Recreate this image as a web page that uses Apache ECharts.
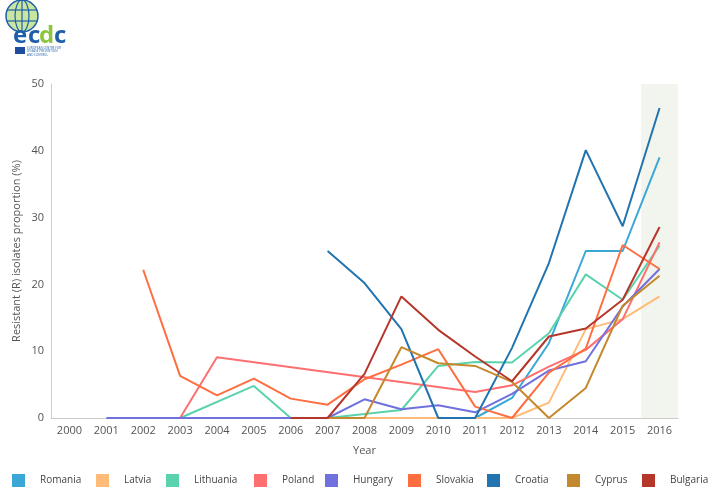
<!DOCTYPE html>
<html><head><meta charset="utf-8">
<script src="https://cdn.jsdelivr.net/npm/echarts@6/dist/echarts.min.js"></script>
<style>html,body{margin:0;padding:0;background:#fff}#c{width:709px;height:489px}</style>
</head><body><div id="c"></div>
<script>
const years = ['2000','2001','2002','2003','2004','2005','2006','2007','2008','2009','2010','2011','2012','2013','2014','2015','2016'];
const yTicks = [0,10,20,30,40,50];
const countries = ['Romania','Latvia','Lithuania','Poland','Hungary','Slovakia','Croatia','Cyprus','Bulgaria'];
const colors = ['#3aa7d6','#ffbb78','#5ad2ae','#ff6f6f','#7070df','#ff6e40','#2274b0','#c4882e','#b5372a'];
const romania   = [null,null,null,null,null,null,null,null,null,null,null,0,3.0,11.2,25.0,25.0,39.0];
const latvia    = [null,null,null,null,null,null,null,null,0,0,0,0,0,2.3,13.3,14.8,18.2];
const lithuania = [null,null,null,0,null,4.8,0,0,0.6,1.2,7.8,8.4,8.3,12.7,21.5,17.7,25.8];
const poland    = [null,null,null,0,9.1,null,null,null,null,null,null,3.9,4.9,7.7,10.2,14.8,26.3];
const hungary   = [null,0,0,0,0,0,0,0,2.8,1.3,1.9,0.85,3.6,7.1,8.5,16.7,22.3];
const slovakia  = [null,null,22.2,6.3,3.4,5.9,2.9,2.0,5.8,8.0,10.3,1.7,0,6.8,10.4,25.9,22.3];
const croatia   = [null,null,null,null,null,null,null,25.0,20.2,13.3,0,0,10.5,23.2,40.1,28.7,46.4];
const cyprus    = [null,null,null,null,null,null,null,0,0,10.6,8.2,7.8,5.4,0,4.5,16.8,21.3];
const bulgaria  = [null,null,null,null,null,null,0,0,6.6,18.2,13.2,9.2,5.5,12.2,13.4,17.7,28.6];
const seriesData = [romania,latvia,lithuania,poland,hungary,slovakia,croatia,cyprus,bulgaria];
const highlightYear = '2016';

const font = '"Open Sans", sans-serif';
const legendLefts = [12,96,166,254,325,408,487,567,642];

const series = [{
  name:'highlight', type:'bar', silent:true, barWidth:'100%', barGap:'-100%', z:1,
  itemStyle:{color:'#f2f5ed'},
  data: years.map(y => y === highlightYear ? 50 : null)
}].concat(countries.map((n,i)=>({
  name:n, type:'line', data:seriesData[i], showSymbol:false, symbol:'none',
  connectNulls:true, lineStyle:{width:2, color:colors[i]}, itemStyle:{color:colors[i]},
  z: 3
})));

const legends = countries.map((n,i)=>({
  left:legendLefts[i], bottom:2, padding:0, itemWidth:13, itemHeight:13, icon:'rect',
  textStyle:{color:'#444', fontSize:10, fontFamily:font, padding:[0,0,0,10]},
  data:[n]
}));

const chart = echarts.init(document.getElementById('c'));
chart.setOption({
  animation:false,
  color:colors,
  grid:{left:51, right:31, top:84, bottom:71},
  xAxis:{type:'category', data:years, boundaryGap:true,
    name:'Year', nameLocation:'middle', nameGap:27, nameMoveOverlap:false,
    nameTextStyle:{color:'#555', fontSize:11, fontFamily:font},
    axisLine:{lineStyle:{color:'#cccccc'}}, axisTick:{show:false},
    axisLabel:{color:'#555', fontSize:11, fontFamily:font, interval:0, margin:7}},
  yAxis:{type:'value', min:0, max:50, interval:10,
    name:'Resistant (R) isolates proportion (%)', nameLocation:'middle', nameGap:29, nameMoveOverlap:false,
    nameTextStyle:{color:'#555', fontSize:11, fontFamily:font},
    axisLine:{show:true, lineStyle:{color:'#cccccc'}}, axisTick:{show:false}, splitLine:{show:false},
    axisLabel:{color:'#555', fontSize:11, fontFamily:font, margin:7}},
  legend:legends,
  graphic:[
    {type:'circle', shape:{cx:22, cy:16, r:16}, style:{fill:'#c8e6a0'}},
    {type:'circle', shape:{cx:22, cy:16, r:16}, style:{fill:'none', stroke:'#1f5fa8', lineWidth:1.5}},
    {type:'ellipse', shape:{cx:22, cy:16, rx:7, ry:16}, style:{fill:'none', stroke:'#1f5fa8', lineWidth:1.2}},
    {type:'line', shape:{x1:7, y1:10, x2:37, y2:10}, style:{stroke:'#1f5fa8', lineWidth:1.2}},
    {type:'line', shape:{x1:7, y1:21, x2:37, y2:21}, style:{stroke:'#1f5fa8', lineWidth:1.2}},
    {type:'line', shape:{x1:22, y1:0, x2:22, y2:32}, style:{stroke:'#1f5fa8', lineWidth:1.2}},
    {type:'text', left:13, top:24, style:{text:'e', fill:'#1f5fa8', font:'bold 24px '+font}},
    {type:'text', left:28, top:24, style:{text:'c', fill:'#1f5fa8', font:'bold 24px '+font}},
    {type:'text', left:39, top:24, style:{text:'d', fill:'#8cc63f', font:'bold 24px '+font}},
    {type:'text', left:54, top:24, style:{text:'c', fill:'#1f5fa8', font:'bold 24px '+font}},
    {type:'rect', shape:{x:15, y:47, width:10, height:7}, style:{fill:'#1f4ea0'}},
    {type:'text', left:27, top:46, style:{text:'EUROPEAN CENTRE FOR\nDISEASE PREVENTION\nAND CONTROL', fill:'#1f5fa8', font:'3px '+font, lineHeight:3.5}}
  ],
  series:series
});
</script></body></html>
